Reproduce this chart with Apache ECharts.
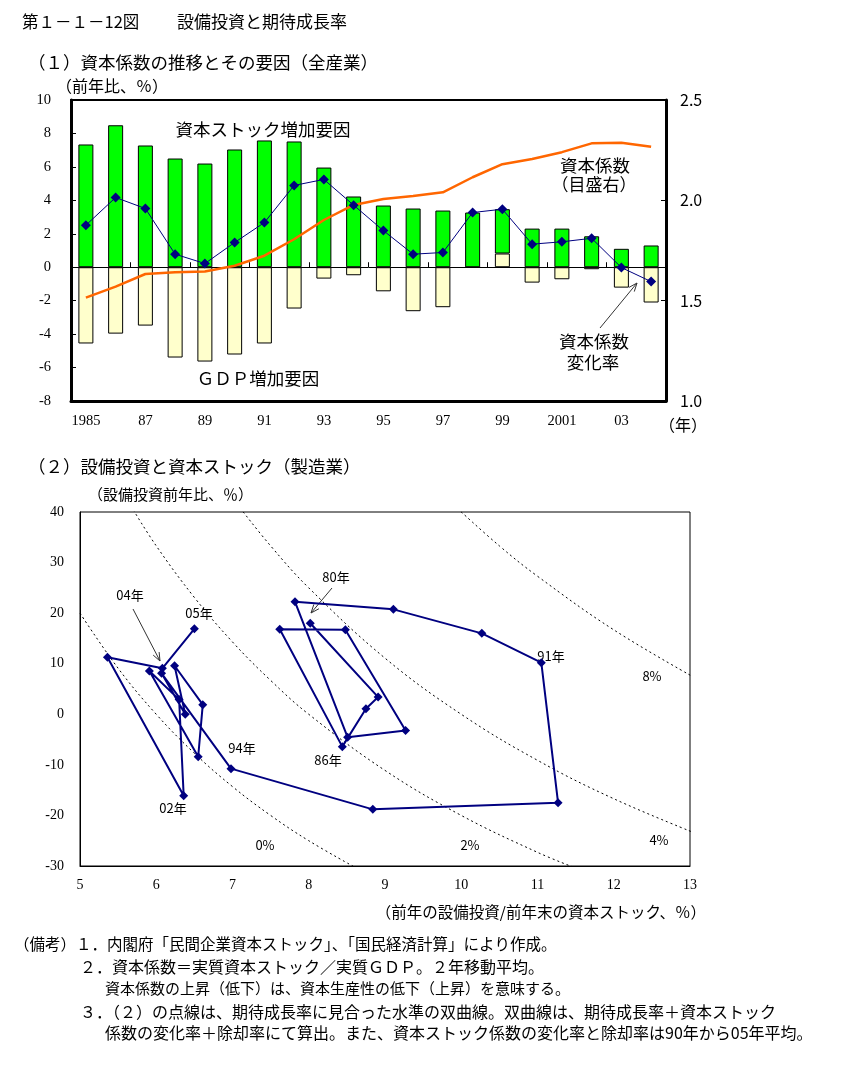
<!DOCTYPE html>
<html>
<head>
<meta charset="utf-8">
<script src="https://cdn.jsdelivr.net/npm/echarts/dist/echarts.min.js"></script>
<style>
html,body{margin:0;padding:0;background:#fff;}
#c{width:858px;height:1070px;}
</style>
</head>
<body>
<div id="c"></div>
<script>
// ---------- (1) data ----------
const years = ['1985','86','87','88','89','90','91','92','93','94','95','96','97','98','99','2000','2001','02','03','04'];
const capitalFactor = [7.34, 8.49, 7.28, 6.5, 6.2, 7.04, 7.58, 7.52, 5.96, 4.23, 3.69, 3.51, 3.39, 3.27, 2.65, 2.31, 2.31, 1.85, 1.1, 1.3];
const gdpFactor = [-4.56, -3.97, -3.49, -5.4, -5.64, -5.22, -4.56, -2.47, -0.68, -0.48, -1.44, -2.63, -2.39, 0, 0.82, -0.92, -0.72, -0.12, -1.22, -2.11];
const coefChange = [2.51, 4.17, 3.51, 0.78, 0.22, 1.48, 2.67, 4.89, 5.25, 3.71, 2.19, 0.78, 0.88, 3.27, 3.47, 1.38, 1.52, 1.73, -0.02, -0.86];
const capitalCoef = [1.515, 1.57, 1.633, 1.641, 1.645, 1.674, 1.724, 1.806, 1.902, 1.977, 2.007, 2.022, 2.04, 2.115, 2.18, 2.206, 2.24, 2.284, 2.287, 2.267];
const leftTicks = {min: -8, max: 10, interval: 2};
const rightTicks = {min: 1.0, max: 2.5, interval: 0.5};

// ---------- (2) data ----------
const scatterYears = ['80','81','82','83','84','85','86','87','88','89','90','91','92','93','94','95','96','97','98','99','00','01','02','03','04','05'];
const invRatio = [8.02, 8.91, 8.75, 8.44, 7.62, 8.48, 9.27, 8.51, 7.82, 9.11, 10.27, 11.05, 11.27, 8.84, 6.98, 6.07, 6.38, 6.24, 6.61, 6.55, 5.91, 6.30, 6.36, 5.36, 6.08, 6.50];
const capexGrowth = [18.0, 3.4, 1.1, -6.4, 16.8, 16.7, -3.2, -4.55, 22.25, 20.75, 16.0, 10.2, -17.5, -18.8, -10.75, 8.1, 0.0, 9.6, 1.9, -8.4, 8.56, 2.9, -16.1, 11.26, 9.1, 16.9];
// dotted hyperbolas
const curve0 = [[5,20],[5.5,9.1],[6,0],[6.5,-7.7],[7,-14.3],[7.5,-20],[8,-25],[8.6,-30.2]];
const curve2 = [[5.7,40.4],[6,33.3],[6.5,23.1],[7,14.3],[7.5,6.7],[8,0],[9,-11.1],[10,-20],[11,-27.3],[11.5,-30.4]];
const curve4 = [[7.1,40.8],[7.5,33.3],[8,25],[9,11.1],[10,0],[11,-9.1],[12,-16.7],[13.1,-23.7]];
const curve8 = [[9.95,40.7],[10.5,33.3],[11,27.3],[12,16.7],[13.1,6.9]];
const xTicks2 = {min: 5, max: 13, interval: 1};
const yTicks2 = {min: -30, max: 40, interval: 10};

const JP = '"Noto Sans CJK JP"';

function txt(text, x, y, size, align, family) {
  align = align || 'left';
  family = family || JP;
  return {type: 'text', x: x, y: y, silent: true,
    style: {text: text, font: size + 'px ' + family, fill: '#000',
      align: align, verticalAlign: 'middle', textAlign: align, textVerticalAlign: 'middle'}};
}
function arrow(x1, y1, x2, y2) {
  const a = Math.atan2(y2 - y1, x2 - x1), L = 9, w = 0.38;
  return {type: 'group', silent: true, children: [
    {type: 'line', shape: {x1: x1, y1: y1, x2: x2, y2: y2}, style: {stroke: '#333', lineWidth: 1}},
    {type: 'polyline', shape: {points: [[x2 - L * Math.cos(a - w), y2 - L * Math.sin(a - w)], [x2, y2], [x2 - L * Math.cos(a + w), y2 - L * Math.sin(a + w)]]},
      style: {stroke: '#333', fill: null, lineWidth: 1}}
  ]};
}

const scatterData = invRatio.map((x, i) => [x, capexGrowth[i]]);
const dotted = {color: '#000', width: 1, type: [2, 3]};
function curveSeries(d) {
  return {type: 'line', xAxisIndex: 2, yAxisIndex: 2, data: d, smooth: 0.4, showSymbol: false,
    lineStyle: dotted, clip: true, silent: true, z: 1};
}

const chart = echarts.init(document.getElementById('c'));
chart.setOption({
  animation: false,
  backgroundColor: '#fff',
  grid: [
    {left: 71, top: 100, width: 595, height: 301, show: true, borderColor: '#000', borderWidth: 2, backgroundColor: 'transparent'},
    {left: 80, top: 512, width: 610, height: 354, show: true, borderColor: '#000', borderWidth: 1, backgroundColor: 'transparent'}
  ],
  xAxis: [
    {type: 'category', gridIndex: 0, data: years, position: 'bottom',
      axisLine: {onZero: true, onZeroAxisIndex: 0, lineStyle: {color: '#000', width: 1}},
      axisTick: {show: true, inside: true, length: 5, lineStyle: {color: '#000'}},
      axisLabel: {show: false}, splitLine: {show: false}},
    {type: 'category', gridIndex: 0, data: years, position: 'bottom',
      axisLine: {onZero: false, lineStyle: {color: '#000', width: 3}},
      axisTick: {show: false}, splitLine: {show: false},
      axisLabel: {interval: 1, margin: 13, fontFamily: 'Liberation Serif', fontSize: 14.5, color: '#000'}},
    {type: 'value', gridIndex: 1, min: xTicks2.min, max: xTicks2.max, interval: xTicks2.interval,
      axisLine: {onZero: false, lineStyle: {color: '#000', width: 1}},
      axisTick: {show: false}, splitLine: {show: false},
      axisLabel: {margin: 12, fontFamily: 'Liberation Serif', fontSize: 14, color: '#000'}}
  ],
  yAxis: [
    {type: 'value', gridIndex: 0, min: leftTicks.min, max: leftTicks.max, interval: leftTicks.interval,
      axisLine: {show: true, onZero: false, lineStyle: {color: '#000', width: 3}},
      axisTick: {show: true, inside: true, length: 5, lineStyle: {color: '#000'}},
      splitLine: {show: false},
      axisLabel: {margin: 20, fontFamily: 'Liberation Serif', fontSize: 14.5, color: '#000'}},
    {type: 'value', gridIndex: 0, position: 'right', min: rightTicks.min, max: rightTicks.max, interval: rightTicks.interval,
      axisLine: {show: true, onZero: false, lineStyle: {color: '#000', width: 3}},
      axisTick: {show: true, inside: true, length: 5, lineStyle: {color: '#000'}},
      splitLine: {show: false},
      axisLabel: {margin: 14, fontFamily: 'Noto Sans CJK JP', fontSize: 16, color: '#000', formatter: v => v.toFixed(1)}},
    {type: 'value', gridIndex: 1, min: yTicks2.min, max: yTicks2.max, interval: yTicks2.interval,
      axisLine: {show: true, onZero: false, lineStyle: {color: '#000', width: 1}},
      axisTick: {show: false}, splitLine: {show: false},
      axisLabel: {margin: 16, fontFamily: 'Liberation Serif', fontSize: 14, color: '#000'}}
  ],
  series: [
    {name: 'GDP増加要因', type: 'bar', xAxisIndex: 0, yAxisIndex: 0, stack: 'f', data: gdpFactor, barWidth: 15,
      itemStyle: {color: '#FFFFCC', borderColor: '#000', borderWidth: 1}},
    {name: '資本ストック増加要因', type: 'bar', xAxisIndex: 0, yAxisIndex: 0, stack: 'f', data: capitalFactor, barWidth: 15,
      itemStyle: {color: '#00FF00', borderColor: '#000', borderWidth: 1}},
    {name: '資本係数', type: 'line', xAxisIndex: 0, yAxisIndex: 1, data: capitalCoef, showSymbol: false,
      lineStyle: {color: '#FF6600', width: 2.5}, z: 4},
    {name: '資本係数変化率', type: 'line', xAxisIndex: 0, yAxisIndex: 0, data: coefChange,
      symbol: 'diamond', symbolSize: 10, lineStyle: {color: '#000080', width: 1},
      itemStyle: {color: '#000080'}, z: 5},
    curveSeries(curve0), curveSeries(curve2), curveSeries(curve4), curveSeries(curve8),
    {name: '設備投資', type: 'line', xAxisIndex: 2, yAxisIndex: 2, data: scatterData,
      symbol: 'diamond', symbolSize: 9, lineStyle: {color: '#000080', width: 2},
      itemStyle: {color: '#000080'}, z: 5}
  ],
  graphic: [
    txt('第１－１－12図', 22, 22, 16.5),
    txt('設備投資と期待成長率', 177, 22, 17),
    txt('（１）資本係数の推移とその要因（全産業）', 28, 62, 17.5),
    txt('（前年比、％）', 56, 86, 16),
    txt('資本ストック増加要因', 263, 129, 17.5, 'center'),
    txt('ＧＤＰ増加要因', 258, 378, 17.5, 'center'),
    txt('資本係数', 595, 165, 17.5, 'center'),
    txt('（目盛右）', 594, 185, 17, 'center'),
    txt('資本係数', 594, 341, 17.5, 'center'),
    txt('変化率', 593, 362, 17.5, 'center'),
    arrow(600, 328, 637, 283),
    txt('（年）', 683, 425, 16, 'center'),
    txt('（２）設備投資と資本ストック（製造業）', 28, 466, 17.5),
    txt('（設備投資前年比、％）', 88, 494, 15),
    txt('（前年の設備投資/前年末の資本ストック、％）', 706, 912, 15.5, 'right'),
    txt('80年', 336, 577, 13, 'center'),
    arrow(332, 588, 311, 613),
    txt('91年', 551, 656, 13, 'center'),
    txt('86年', 328, 760, 13, 'center'),
    txt('94年', 242, 748, 13, 'center'),
    txt('02年', 173, 808, 13, 'center'),
    txt('04年', 130, 595, 13, 'center'),
    arrow(133, 609, 160, 661),
    txt('05年', 199, 613, 13, 'center'),
    txt('0%', 265, 845, 13, 'center'),
    txt('2%', 470, 845, 13, 'center'),
    txt('4%', 659, 840, 13, 'center'),
    txt('8%', 652, 676, 13, 'center'),
    txt('（備考）１．内閣府「民間企業資本ストック」、「国民経済計算」により作成。', 14, 944, 15.5),
    txt('２．資本係数＝実質資本ストック／実質ＧＤＰ。２年移動平均。', 80, 967, 16),
    txt('資本係数の上昇（低下）は、資本生産性の低下（上昇）を意味する。', 105, 988, 15),
    txt('３．（２）の点線は、期待成長率に見合った水準の双曲線。双曲線は、期待成長率＋資本ストック', 80, 1012, 16),
    txt('係数の変化率＋除却率にて算出。また、資本ストック係数の変化率と除却率は90年から05年平均。', 105, 1033, 16)
  ]
});
</script>
</body>
</html>
